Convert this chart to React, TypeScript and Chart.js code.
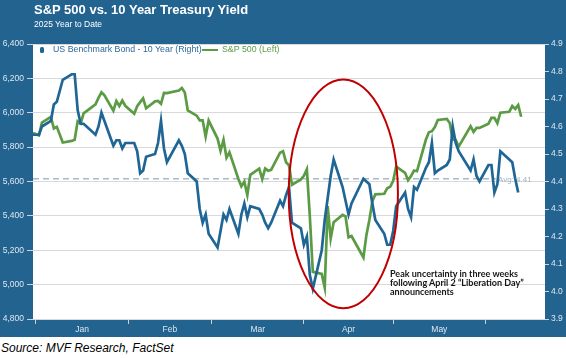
import { useEffect, useRef } from "react";
import { Chart, registerables } from "chart.js";
Chart.register(...registerables);

// ---------- DATA ----------
const tradeDates = [
  "2024-12-31",
  "2025-01-02","2025-01-03","2025-01-06","2025-01-07","2025-01-08","2025-01-10","2025-01-13","2025-01-14","2025-01-15","2025-01-16",
  "2025-01-17","2025-01-21","2025-01-22","2025-01-23","2025-01-24","2025-01-27","2025-01-28","2025-01-29","2025-01-30","2025-01-31",
  "2025-02-03","2025-02-04","2025-02-05","2025-02-06","2025-02-07","2025-02-10","2025-02-11","2025-02-12","2025-02-13","2025-02-14",
  "2025-02-18","2025-02-19","2025-02-20","2025-02-21","2025-02-24","2025-02-25","2025-02-26","2025-02-27","2025-02-28",
  "2025-03-03","2025-03-04","2025-03-05","2025-03-06","2025-03-07","2025-03-10","2025-03-11","2025-03-12","2025-03-13","2025-03-14",
  "2025-03-17","2025-03-18","2025-03-19","2025-03-20","2025-03-21","2025-03-24","2025-03-25","2025-03-26","2025-03-27","2025-03-28","2025-03-31",
  "2025-04-01","2025-04-02","2025-04-03","2025-04-04","2025-04-07","2025-04-08","2025-04-09","2025-04-10","2025-04-11","2025-04-14",
  "2025-04-15","2025-04-16","2025-04-17","2025-04-21","2025-04-22","2025-04-23","2025-04-24","2025-04-25","2025-04-28","2025-04-29","2025-04-30",
  "2025-05-01","2025-05-02","2025-05-05","2025-05-06","2025-05-07","2025-05-08","2025-05-09","2025-05-12","2025-05-13","2025-05-14",
  "2025-05-15","2025-05-16","2025-05-19","2025-05-20","2025-05-21","2025-05-22","2025-05-23","2025-05-27","2025-05-28","2025-05-29","2025-05-30",
  "2025-06-02","2025-06-03","2025-06-04","2025-06-05","2025-06-06","2025-06-09","2025-06-10","2025-06-11","2025-06-12","2025-06-13",
];

const sp500 = [
  5881.63,
  5868.55,5942.47,5975.38,5909.03,5918.25,5827.04,5836.22,5842.91,5949.91,5937.34,
  5996.66,6049.24,6086.37,6118.71,6101.24,6012.28,6067.70,6039.31,6071.17,6040.53,
  5994.57,6037.88,6061.48,6083.57,6025.99,6066.44,6068.50,6051.97,6115.07,6114.63,
  6129.58,6144.15,6117.52,6013.13,5983.25,5955.25,5956.06,5861.57,5954.50,
  5849.72,5778.15,5842.63,5738.52,5770.20,5614.56,5572.07,5599.30,5521.52,5638.94,
  5675.12,5614.66,5675.29,5662.89,5667.56,5767.57,5776.65,5712.20,5693.31,5580.94,5611.85,
  5633.07,5670.97,5396.52,5074.08,5062.25,4982.77,5456.90,5268.05,5363.36,5405.97,
  5396.63,5275.70,5282.70,5158.20,5287.76,5375.86,5484.77,5525.21,5528.75,5560.83,5569.06,
  5604.14,5686.67,5650.38,5606.91,5631.28,5663.94,5659.91,5844.19,5886.55,5892.58,
  5916.93,5958.38,5963.60,5940.46,5844.61,5842.01,5802.82,5921.54,5888.55,5912.17,5911.69,
  5935.94,5970.37,5970.81,5939.30,6000.36,6005.88,6038.81,6022.24,6045.26,5976.97,
];

const treasury10y = [
  4.57,
  4.57,4.60,4.62,4.68,4.69,4.77,4.79,4.79,4.66,4.61,
  4.61,4.57,4.60,4.65,4.62,4.53,4.55,4.55,4.52,4.54,
  4.54,4.51,4.43,4.44,4.49,4.50,4.54,4.62,4.52,4.47,
  4.55,4.53,4.50,4.43,4.40,4.30,4.25,4.28,4.21,
  4.16,4.22,4.28,4.26,4.30,4.21,4.28,4.32,4.27,4.31,
  4.30,4.28,4.25,4.23,4.25,4.33,4.31,4.35,4.38,4.25,4.23,
  4.17,4.20,4.06,4.01,4.15,4.26,4.34,4.42,4.48,4.38,
  4.33,4.28,4.32,4.41,4.40,4.39,4.32,4.26,4.21,4.17,4.17,
  4.22,4.31,4.36,4.30,4.27,4.38,4.37,4.45,4.47,4.54,
  4.43,4.44,4.46,4.48,4.60,4.54,4.51,4.44,4.48,4.42,4.40,
  4.46,4.46,4.36,4.39,4.51,4.48,4.47,4.41,4.36,
];

const avgYield = 4.41;
const monthLabels = ["Jan", "Feb", "Mar", "Apr", "May"];
const monthStarts = ["2025-01-01", "2025-02-01", "2025-03-01", "2025-04-01", "2025-05-01", "2025-06-01"];
const leftTicks = [4800, 5000, 5200, 5400, 5600, 5800, 6000, 6200, 6400];
const rightTicks = [3.9, 4.0, 4.1, 4.2, 4.3, 4.4, 4.5, 4.6, 4.7, 4.8, 4.9];
const seriesNames = ["US Benchmark Bond - 10 Year (Right)", "S&P 500 (Left)"];
const titleText = "S&P 500 vs. 10 Year Treasury Yield";
const subtitleText = "2025 Year to Date";
const noteLines = ["Peak uncertainty in three weeks", "following April 2 \u201cLiberation Day\u201d", "announcements"];
const avgLabelText = "Avg: 4.41";
const sourceText = "Source: MVF Research, FactSet";

// ---------- STYLE ----------
const BG_BLUE = "#23638f";
const LINE_BLUE = "#1f6696";
const LINE_GREEN = "#5b9b44";
const AXIS_TEXT = "#dfe7ef";
const TICK_MARK = "#c9d4de";
const FONT = '"Liberation Sans", Arial, sans-serif';

const EPOCH = Date.parse("2025-01-01");
const dayNum = (iso: string) => (Date.parse(iso) - EPOCH) / 86400000;

export default function App() {
  const canvasRef = useRef<HTMLCanvasElement | null>(null);

  useEffect(() => {
    document.body.style.margin = "0";
    const canvas = canvasRef.current;
    if (!canvas) return;

    const boundaries = monthStarts.map(dayNum);
    const mids = monthLabels.map((_, i) => (boundaries[i] + boundaries[i + 1]) / 2);
    const xTickVals = [...boundaries, ...mids].sort((a, b) => a - b);

    const spxPts = sp500.map((v, i) => ({ x: dayNum(tradeDates[i]), y: v }));
    const tsyPts = treasury10y.map((v, i) => ({ x: dayNum(tradeDates[i]), y: v }));
    const avgPts = [
      { x: -1, y: avgYield },
      { x: 154.5, y: avgYield },
    ];

    const plotBg = {
      id: "plotBg",
      beforeDraw(chart: any) {
        const { ctx, chartArea: a } = chart;
        ctx.save();
        ctx.fillStyle = "#ffffff";
        ctx.fillRect(a.left, a.top, a.right - a.left, a.bottom - a.top);
        ctx.restore();
      },
    };

    const avgLabel = {
      id: "avgLabel",
      beforeDatasetsDraw(chart: any) {
        const { ctx, scales } = chart;
        const x = scales.x.getPixelForValue(155.2);
        const y = scales.y1.getPixelForValue(avgYield);
        ctx.save();
        ctx.font = `8px ${FONT}`;
        ctx.fillStyle = "#9fb3c6";
        ctx.textAlign = "left";
        ctx.textBaseline = "middle";
        ctx.fillText(avgLabelText, x, y + 1);
        ctx.restore();
      },
    };

    const ellipse = {
      id: "ellipse",
      afterDatasetsDraw(chart: any) {
        const { ctx, scales } = chart;
        const x0 = scales.x.getPixelForValue(84.9);
        const x1 = scales.x.getPixelForValue(121.6);
        const y0 = scales.y.getPixelForValue(6194);
        const y1 = scales.y.getPixelForValue(4862);
        ctx.save();
        ctx.strokeStyle = "#c00000";
        ctx.lineWidth = 2;
        ctx.beginPath();
        ctx.ellipse((x0 + x1) / 2, (y0 + y1) / 2, (x1 - x0) / 2, (y1 - y0) / 2, 0, 0, Math.PI * 2);
        ctx.stroke();
        ctx.restore();
      },
    };

    const chart = new Chart(canvas, {
      type: "line",
      data: {
        datasets: [
          {
            label: seriesNames[0],
            data: tsyPts,
            yAxisID: "y1",
            borderColor: LINE_BLUE,
            backgroundColor: LINE_BLUE,
            borderWidth: 2.7,
            pointRadius: 0,
            tension: 0,
            order: 0,
          },
          {
            label: seriesNames[1],
            data: spxPts,
            yAxisID: "y",
            borderColor: LINE_GREEN,
            backgroundColor: LINE_GREEN,
            borderWidth: 2.7,
            pointRadius: 0,
            tension: 0,
            order: 1,
          },
          {
            label: "avg",
            data: avgPts,
            yAxisID: "y1",
            borderColor: "#a6b9ca",
            borderWidth: 1.4,
            borderDash: [6, 4],
            pointRadius: 0,
            order: 2,
          },
        ],
      },
      options: {
        animation: false,
        responsive: false,
        layout: { padding: { top: 44, left: 0, right: 0, bottom: 0 } },
        plugins: { legend: { display: false }, tooltip: { enabled: false } },
        scales: {
          x: {
            type: "linear",
            min: -1,
            max: 171,
            afterBuildTicks: (scale: any) => {
              scale.ticks = xTickVals.map((v) => ({ value: v }));
            },
            afterFit: (scale: any) => {
              scale.height = 19;
            },
            border: { display: false },
            grid: {
              drawOnChartArea: false,
              tickLength: 5,
              tickColor: (ctx: any) =>
                ctx.tick && boundaries.includes(ctx.tick.value) ? TICK_MARK : "rgba(0,0,0,0)",
            },
            ticks: {
              autoSkip: false,
              maxRotation: 0,
              padding: 1,
              color: AXIS_TEXT,
              font: { family: FONT, size: 8.5 },
              callback: (v: any) => {
                const i = mids.indexOf(Number(v));
                return i >= 0 ? monthLabels[i] : "";
              },
            },
          },
          y: {
            type: "linear",
            position: "left",
            min: 4800,
            max: 6400,
            afterBuildTicks: (scale: any) => {
              scale.ticks = leftTicks.map((v) => ({ value: v }));
            },
            afterFit: (scale: any) => {
              scale.width = 33;
            },
            border: { display: false },
            grid: { color: "#d9d9d9", lineWidth: 1, tickLength: 6, tickColor: TICK_MARK },
            ticks: {
              padding: 3,
              color: AXIS_TEXT,
              font: { family: FONT, size: 8.5 },
              callback: (v: any) => Number(v).toLocaleString("en-US"),
            },
          },
          y1: {
            type: "linear",
            position: "right",
            min: 3.9,
            max: 4.9,
            afterBuildTicks: (scale: any) => {
              scale.ticks = rightTicks.map((v) => ({ value: v }));
            },
            afterFit: (scale: any) => {
              scale.width = 21;
            },
            border: { display: false },
            grid: { drawOnChartArea: false, tickLength: 4, tickColor: TICK_MARK },
            ticks: {
              padding: 2,
              color: AXIS_TEXT,
              font: { family: FONT, size: 8.5 },
              callback: (v: any) => Number(v).toFixed(1),
            },
          },
        },
      },
      plugins: [plotBg, avgLabel, ellipse],
    } as any);

    return () => chart.destroy();
  }, []);

  return (
    <div style={{ position: "relative", width: 566, height: 358, background: "#fff", fontFamily: FONT, overflow: "hidden" }}>
      <div style={{ position: "absolute", left: 0, top: 0, width: 566, height: 337, background: BG_BLUE }} />
      <canvas ref={canvasRef} width={566} height={338} style={{ position: "absolute", left: 0, top: 0, width: 566, height: 338 }} />
      <div style={{ position: "absolute", left: 34, top: 2, color: "#fff", fontWeight: "bold", fontSize: 13, lineHeight: "16px", whiteSpace: "nowrap" }}>
        {titleText}
      </div>
      <div style={{ position: "absolute", left: 34, top: 18.5, color: "#fff", fontSize: 8.5, lineHeight: "11px", whiteSpace: "nowrap" }}>
        {subtitleText}
      </div>
      {/* legend */}
      <div style={{ position: "absolute", left: 40, top: 46.5, width: 3.5, height: 6.5, background: LINE_BLUE, borderRadius: 1.5 }} />
      <div style={{ position: "absolute", left: 53, top: 44, color: "#2c679b", fontSize: 8.8, lineHeight: "11px", whiteSpace: "nowrap" }}>
        {seriesNames[0]}
      </div>
      <div style={{ position: "absolute", left: 202, top: 48.5, width: 16, height: 2.2, background: LINE_GREEN }} />
      <div style={{ position: "absolute", left: 222, top: 44, color: LINE_GREEN, fontSize: 8.8, lineHeight: "11px", whiteSpace: "nowrap" }}>
        {seriesNames[1]}
      </div>
      {/* annotation */}
      <div style={{ position: "absolute", left: 390, top: 268.5, color: "#151515", fontFamily: "Lato, " + FONT, fontWeight: "bold", fontSize: 9, lineHeight: "9.3px", whiteSpace: "nowrap" }}>
        {noteLines.map((l, i) => (
          <div key={i}>{l}</div>
        ))}
      </div>
      <div style={{ position: "absolute", left: 1, top: 341, color: "#000", fontStyle: "italic", fontSize: 12, lineHeight: "15px", whiteSpace: "nowrap" }}>
        {sourceText}
      </div>
    </div>
  );
}
